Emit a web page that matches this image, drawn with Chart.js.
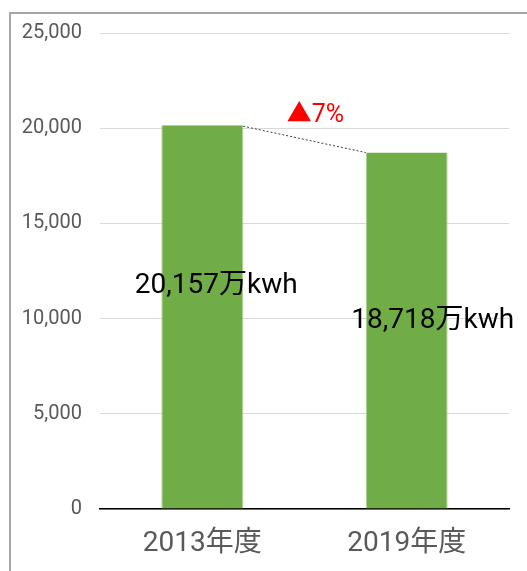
<!DOCTYPE html>
<html><head><meta charset="utf-8">
<script src="https://cdn.jsdelivr.net/npm/chart.js@4.4.0/dist/chart.umd.min.js"></script>
<style>
html,body{margin:0;padding:0;background:#fff;}
#wrap{position:relative;width:527px;height:571px;}
#frame{position:absolute;left:9px;top:12px;right:0;bottom:0;border-left:2px solid #a6a6a6;border-top:2px solid #a6a6a6;pointer-events:none;}
canvas{position:absolute;left:0;top:0;}
</style></head>
<body>
<div id="wrap"><canvas id="c" width="527" height="571"></canvas><div id="frame"></div></div>
<script>
const categories = ['2013年度', '2019年度'];
const values = [20157, 18718];
const valueLabels = ['20,157万kwh', '18,718万kwh'];
const changeLabel = '▲7%';
const yTicks = [0, 5000, 10000, 15000, 20000, 25000];

const FONT = "Roboto, 'Noto Sans CJK JP', sans-serif";

const annot = {
  id: 'annot',
  afterDatasetsDraw(chart) {
    const ctx = chart.ctx;
    const meta = chart.getDatasetMeta(0);
    const b1 = meta.data[0], b2 = meta.data[1];
    const w1 = b1.width / 2, w2 = b2.width / 2;
    ctx.save();
    ctx.strokeStyle = '#404040';
    ctx.lineWidth = 1;
    ctx.setLineDash([2, 2]);
    ctx.beginPath();
    ctx.moveTo(b1.x + w1, b1.y + 1);
    ctx.lineTo(b2.x - w2, b2.y);
    ctx.stroke();
    ctx.setLineDash([]);
    ctx.fillStyle = '#ff0000';
    ctx.font = "25px " + FONT;
    ctx.textAlign = 'center';
    ctx.textBaseline = 'middle';
    ctx.fillText(changeLabel, (b1.x + b2.x) / 2 + 11, b1.y - 9);
    ctx.fillStyle = '#000';
    ctx.font = "28px " + FONT;
    const offs = [[14, -31], [26, -10]];
    meta.data.forEach((b, i) => {
      const mid = (b.y + b.base) / 2;
      ctx.fillText(valueLabels[i], b.x + offs[i][0], mid + offs[i][1]);
    });
    ctx.restore();
  }
};

new Chart(document.getElementById('c'), {
  type: 'bar',
  data: {
    labels: categories,
    datasets: [{
      data: values,
      backgroundColor: '#70ad47',
      borderColor: '#a9d18e',
      borderWidth: {left: 1, right: 1, top: 0, bottom: 0},
      barPercentage: 0.4,
      categoryPercentage: 1
    }]
  },
  options: {
    responsive: false,
    animation: false,
    layout: {padding: {left: 0, right: 18, top: 33, bottom: 0}},
    plugins: {legend: {display: false}, tooltip: {enabled: false}},
    scales: {
      x: {
        grid: {display: false, drawTicks: false},
        border: {display: true, color: '#000', width: 1.5},
        ticks: {color: '#595959', font: {size: 28, family: FONT}, padding: 18},
        afterFit(s) { s.height = 62; }
      },
      y: {
        min: 0, max: 25000,
        afterBuildTicks(s) { s.ticks = yTicks.map(v => ({value: v})); },
        grid: {color: '#d9d9d9', lineWidth: 1, drawTicks: false},
        border: {display: false},
        ticks: {
          color: '#595959', font: {size: 20, family: FONT}, padding: 18,
          callback: v => v.toLocaleString('en-US')
        },
        afterFit(s) { s.width = 100; }
      }
    }
  },
  plugins: [annot]
});
</script>
</body></html>
